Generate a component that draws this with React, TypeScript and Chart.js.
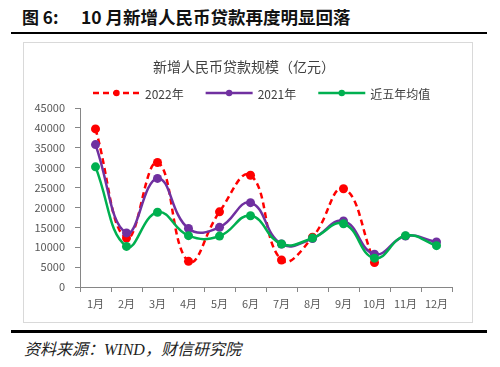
import React, { useEffect, useRef } from "react";
import { Chart, registerables } from "chart.js";

Chart.register(...registerables);

const months = ["1月", "2月", "3月", "4月", "5月", "6月", "7月", "8月", "9月", "10月", "11月", "12月"];
const loans2022: (number | null)[] = [39750, 12300, 31300, 6454, 18900, 28100, 6790, 12500, 24700, 6152, null, null];
const loans2021 = [35800, 13600, 27300, 14700, 15000, 21200, 10800, 12200, 16600, 8262, 12800, 11300];
const avg5y = [30200, 10200, 18800, 12900, 12800, 17900, 10800, 12300, 15900, 7250, 12900, 10400];
const seriesLabels = ["2022年", "2021年", "近五年均值"];
const yMin = 0;
const yMax = 45000;
const yStep = 5000;

const chartTitle = "新增人民币贷款规模（亿元）";

const legendPlugin = {
  id: "customLegend",
  afterDraw(chart: any) {
    const ctx = chart.ctx;
    ctx.save();
    // title
    ctx.font = '14px "Noto Sans CJK SC"';
    ctx.fillStyle = "#404040";
    ctx.textAlign = "center";
    ctx.textBaseline = "middle";
    ctx.fillText(chartTitle, 220, 24);
    // legend
    ctx.font = '12px "Noto Sans CJK SC"';
    ctx.textAlign = "left";
    let x = 69;
    const y = 50;
    const lineW = 47;
    chart.data.datasets.forEach((ds: any) => {
      ctx.strokeStyle = ds.borderColor;
      ctx.lineWidth = 2.5;
      ctx.setLineDash(ds.borderDash || []);
      ctx.beginPath();
      ctx.moveTo(x, y);
      ctx.lineTo(x + lineW, y);
      ctx.stroke();
      ctx.setLineDash([]);
      ctx.fillStyle = ds.borderColor;
      ctx.beginPath();
      ctx.arc(x + lineW / 2, y, 3.2, 0, Math.PI * 2);
      ctx.fill();
      ctx.fillStyle = "#404040";
      const tx = x + lineW + 5;
      ctx.fillText(ds.label, tx, y + 1);
      x = tx + ctx.measureText(ds.label).width + 22;
    });
    ctx.restore();
  },
};

export default function App() {
  const ref = useRef<HTMLCanvasElement>(null);

  useEffect(() => {
    if (!ref.current) return;
    const chart = new Chart(ref.current, {
      type: "line",
      data: {
        labels: months,
        datasets: [
          {
            label: seriesLabels[0],
            data: loans2022,
            borderColor: "#FF0000",
            backgroundColor: "#FF0000",
            borderDash: [6, 4],
            borderWidth: 2.5,
            pointRadius: 4.5,
            pointBorderWidth: 0,
            tension: 0.45,
            order: 2,
          },
          {
            label: seriesLabels[1],
            data: loans2021,
            borderColor: "#7030A0",
            backgroundColor: "#7030A0",
            borderWidth: 2.5,
            pointRadius: 4.5,
            pointBorderWidth: 0,
            tension: 0.45,
            order: 1,
          },
          {
            label: seriesLabels[2],
            data: avg5y,
            borderColor: "#00B050",
            backgroundColor: "#00B050",
            borderWidth: 2.5,
            pointRadius: 4.5,
            pointBorderWidth: 0,
            tension: 0.45,
            order: 0,
          },
        ],
      },
      options: {
        animation: false,
        responsive: false,
        maintainAspectRatio: false,
        layout: { padding: { top: 65, right: 20, bottom: 0, left: 0 } },
        plugins: {
          legend: { display: false },
          title: { display: false },
          tooltip: { enabled: false },
        },
        scales: {
          x: {
            offset: true,
            afterFit(scale: any) {
              scale.height = 35;
            },
            grid: {
              drawOnChartArea: false,
              drawTicks: true,
              tickLength: 5,
              color: "#868686",
              offset: true,
            },
            border: { color: "#868686", width: 1 },
            ticks: {
              color: "#595959",
              font: { family: '"Noto Sans CJK SC"', size: 11 },
              padding: 5,
              maxRotation: 0,
              autoSkip: false,
            },
          },
          y: {
            min: yMin,
            max: yMax,
            afterFit(scale: any) {
              scale.width = 56;
            },
            grid: {
              drawOnChartArea: false,
              drawTicks: true,
              tickLength: 5,
              color: "#868686",
            },
            border: { color: "#868686", width: 1 },
            ticks: {
              stepSize: yStep,
              color: "#595959",
              font: { family: '"Noto Sans CJK SC"', size: 11 },
              padding: 10,
              callback: (v: any) => String(v),
            },
          },
        },
      },
      plugins: [legendPlugin],
    });
    return () => chart.destroy();
  }, []);

  return (
    <div
      style={{
        position: "absolute",
        left: 0,
        top: 0,
        width: 500,
        height: 367,
        background: "#ffffff",
        overflow: "hidden",
      }}
    >
      <div
        style={{
          position: "absolute",
          left: 22,
          top: 5,
          fontFamily: '"Noto Sans CJK SC"',
          fontWeight: 700,
          fontSize: 17,
          lineHeight: "24px",
          color: "#111111",
          whiteSpace: "nowrap",
        }}
      >
        <span>图 6:</span>
        <span style={{ position: "absolute", left: 59, fontSize: 17.5 }}>10 月新增人民币贷款再度明显回落</span>
      </div>
      <div style={{ position: "absolute", left: 11, top: 32, width: 476, height: 2, background: "#000" }} />
      <div
        style={{
          position: "absolute",
          left: 23,
          top: 42,
          width: 448,
          height: 279,
          border: "1px solid #d9d9d9",
        }}
      />
      <canvas
        ref={ref}
        width={448}
        height={279}
        style={{ position: "absolute", left: 24, top: 43, width: 448, height: 279 }}
      />
      <div style={{ position: "absolute", left: 11, top: 330, width: 476, height: 3, background: "#000" }} />
      <div
        style={{
          position: "absolute",
          left: 24,
          top: 339,
          fontFamily: '"Liberation Serif", "Noto Sans CJK SC"',
          fontStyle: "italic",
          fontSize: 16,
          lineHeight: "22px",
          color: "#222222",
          whiteSpace: "nowrap",
        }}
      >
        资料来源：WIND，财信研究院
      </div>
    </div>
  );
}
